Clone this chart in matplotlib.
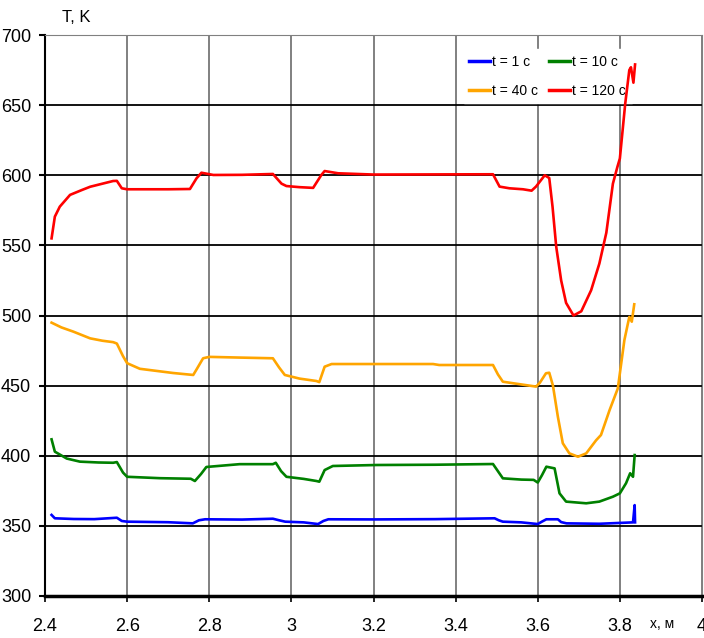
import matplotlib
matplotlib.use("Agg")
import matplotlib.pyplot as plt
from matplotlib import font_manager

# temperature profiles T(x) at several moments of time
x_1 = [2.416, 2.424, 2.47, 2.52, 2.575, 2.587, 2.60, 2.70, 2.76, 2.775, 2.79, 2.88, 2.955,
       2.97, 2.985, 3.03, 3.065, 3.078, 3.09, 3.20, 3.35, 3.495, 3.505, 3.515, 3.56, 3.60,
       3.61, 3.621, 3.649, 3.657, 3.67, 3.75, 3.832, 3.836, 3.837]
t_1 = [357.8, 355.4, 354.9, 354.8, 355.8, 353.5, 353.0, 352.6, 351.8, 354.0, 354.7, 354.5, 355.1,
       354.0, 353.0, 352.5, 351.3, 353.5, 354.7, 354.6, 354.8, 355.4, 354.0, 353.0, 352.5, 351.3,
       353.0, 354.7, 354.7, 352.7, 351.8, 351.5, 352.5, 364.8, 352.5]

x_10 = [2.416, 2.424, 2.453, 2.485, 2.53, 2.566, 2.575, 2.59, 2.60, 2.68, 2.755, 2.765, 2.78,
        2.793, 2.874, 2.955, 2.962, 2.975, 2.988, 3.03, 3.061, 3.068, 3.081, 3.101, 3.207,
        3.35, 3.491, 3.503, 3.515, 3.56, 3.59, 3.60, 3.61, 3.621, 3.641, 3.653, 3.669, 3.718,
        3.75, 3.783, 3.80, 3.815, 3.825, 3.832, 3.836]
t_10 = [411.7, 402.9, 398.0, 395.8, 395.2, 395.0, 395.5, 388.0, 385.0, 384.0, 383.6, 382.0, 387.0,
        392.0, 394.0, 394.0, 395.0, 389.0, 385.0, 383.5, 382.0, 381.5, 389.8, 392.7, 393.4,
        393.6, 394.1, 389.0, 383.9, 383.0, 382.8, 380.9, 386.0, 392.2, 391.0, 373.2, 367.3, 366.1,
        367.3, 370.8, 373.2, 380.4, 387.5, 385.0, 400.5]

x_40 = [2.416, 2.44, 2.469, 2.51, 2.54, 2.566, 2.575, 2.59, 2.60, 2.631, 2.712, 2.761, 2.77,
        2.785, 2.80, 2.874, 2.955, 2.97, 2.984, 3.02, 3.061, 3.068, 3.081, 3.098, 3.20, 3.345,
        3.36, 3.491, 3.503, 3.515, 3.54, 3.596, 3.605, 3.62, 3.628, 3.637, 3.649, 3.661, 3.677,
        3.698, 3.718, 3.742, 3.754, 3.775, 3.795, 3.811, 3.823, 3.829, 3.835]
t_40 = [494.9, 491.5, 488.5, 483.7, 482.0, 481.0, 480.0, 471.0, 466.0, 462.0, 459.0, 457.6, 462.0,
        469.5, 470.5, 470.0, 469.5, 463.0, 457.6, 455.0, 453.3, 452.5, 463.5, 465.4, 465.4, 465.4,
        464.7, 464.7, 458.0, 452.8, 451.7, 449.3, 452.0, 458.8, 459.2, 450.0, 427.8, 408.9, 401.7,
        399.3, 401.7, 411.0, 414.8, 432.6, 448.0, 482.5, 499.0, 495.6, 508.0]

x_120 = [2.416, 2.424, 2.436, 2.461, 2.49, 2.51, 2.54, 2.566, 2.575, 2.587, 2.60, 2.70, 2.753,
         2.769, 2.781, 2.81, 2.88, 2.955, 2.976, 2.988, 3.02, 3.053, 3.073, 3.081, 3.114, 3.20,
         3.35, 3.491, 3.507, 3.531, 3.564, 3.585, 3.596, 3.617, 3.628, 3.636, 3.645, 3.657,
         3.669, 3.687, 3.706, 3.73, 3.75, 3.767, 3.783, 3.794, 3.80, 3.813, 3.823, 3.827, 3.833,
         3.837]
t_120 = [555.0, 570.5, 577.6, 586.0, 589.5, 591.8, 594.0, 595.9, 596.0, 590.7, 590.0, 590.0, 590.2,
         597.8, 601.8, 600.2, 600.3, 600.9, 594.0, 592.3, 591.5, 591.0, 600.2, 603.0, 601.4, 600.5,
         600.6, 600.7, 591.9, 590.7, 590.0, 589.0, 592.0, 600.0, 598.0, 577.6, 549.0, 525.0,
         509.0, 500.0, 503.0, 518.0, 537.0, 559.0, 594.0, 606.0, 612.0, 651.0, 675.0, 677.0, 666.0,
         679.0]

labels = ["t = 1 с", "t = 10 с", "t = 40 с", "t = 120 с"]
colors = ["#0000ff", "#008000", "#ffa500", "#ff0000"]

x_ticks = [2.4, 2.6, 2.8, 3.0, 3.2, 3.4, 3.6, 3.8, 4.0]
x_ticklabels = ["2.4", "2.6", "2.8", "3", "3.2", "3.4", "3.6", "3.8", "4"]
y_ticks = [300, 350, 400, 450, 500, 550, 600, 650, 700]

names = {f.name for f in font_manager.fontManager.ttflist}
family = [f for f in ["Liberation Sans Narrow", "Liberation Sans", "DejaVu Sans"] if f in names]
plt.rcParams["font.family"] = family

fig = plt.figure(figsize=(7.04, 6.38), dpi=100)
ax = fig.add_axes([45 / 704, 42 / 638, 657 / 704, 561 / 638])

lines = []
for xs, ts, lab, col in zip([x_1, x_10, x_40, x_120], [t_1, t_10, t_40, t_120], labels, colors):
    ln, = ax.plot(xs, ts, color=col, lw=1.9, label=lab, zorder=3)
    lines.append(ln)

ax.set_xlim(2.4, 4.0)
ax.set_ylim(300, 700)
ax.set_xticks(x_ticks)
ax.set_xticklabels(x_ticklabels)
ax.set_yticks(y_ticks)

# vertical grid gray, horizontal grid black
ax.xaxis.grid(True, color="#808080", lw=1.4, zorder=1)
ax.yaxis.grid(True, color="black", lw=1.3, zorder=1)

ax.spines["top"].set_color("#808080")
ax.spines["right"].set_color("#808080")
ax.spines["left"].set_linewidth(1.5)
ax.spines["bottom"].set_linewidth(2.5)
ax.tick_params(axis="y", direction="out", length=4, width=1.5, pad=6, labelsize=13)
ax.tick_params(axis="x", direction="out", length=4, width=1.2, pad=12, labelsize=13)

fig.text(76 / 704, 1 - 18 / 638, "T, K", fontsize=12, ha="center", va="center")
fig.text(662 / 704, 1 - 624 / 638, "x, м", fontsize=10, ha="center", va="center")

# legend: two columns, rows (1, 10) and (40, 120)
handles = [lines[0], lines[2], lines[1], lines[3]]
leg = ax.legend(handles, [h.get_label() for h in handles], ncol=2,
                loc="upper left", bbox_to_anchor=(0.627, 0.9875),
                fontsize=10, frameon=True, fancybox=False, framealpha=1,
                edgecolor="white", handlelength=1.5, handletextpad=0.15,
                columnspacing=0.8, labelspacing=1.1, borderpad=0.4)
for ln in leg.get_lines():
    ln.set_linewidth(2.5)
leg.set_zorder(2)

fig.savefig("out.png", dpi=100)
